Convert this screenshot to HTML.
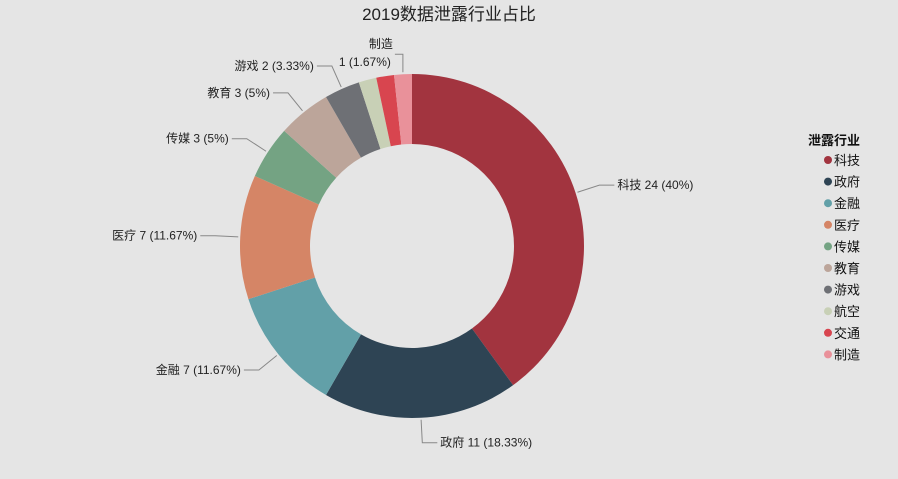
<!DOCTYPE html>
<html><head><meta charset="utf-8"><style>
body{margin:0;background:#e5e5e5;}
svg{display:block;font-family:"Liberation Sans","Noto Sans CJK SC",sans-serif;}
</style></head><body>
<svg id="c" width="898" height="479">
<rect width="898" height="479" fill="#e5e5e5"/>
<text x="449" y="20" text-anchor="middle" font-size="17" fill="#222">2019数据泄露行业占比</text>
<g id="slices"></g><g id="labels"></g><g id="legend"></g>
</svg>
<script>
const categories=["科技","政府","金融","医疗","传媒","教育","游戏","航空","交通","制造"];
const values=[24,11,7,7,3,3,2,1,1,1];
const percents=["40%","18.33%","11.67%","11.67%","5%","5%","3.33%","1.67%","1.67%","1.67%"];
const colors=["#a2343f","#2e4454","#62a0a8","#d58566","#74a383","#bca59a","#6e7075","#c8d0b6","#d8454f","#e9919a"];
const showLabel=[true,true,true,true,true,true,true,false,false,true];
const NS="http://www.w3.org/2000/svg";
const cx=412,cy=246,R=172,r0=102;
const total=values.reduce((a,b)=>a+b,0);
function pt(a,rad){return [cx+rad*Math.sin(a),cy-rad*Math.cos(a)];}
function mk(t,attrs,parent){const e=document.createElementNS(NS,t);for(const k in attrs)e.setAttribute(k,attrs[k]);parent.appendChild(e);return e;}
const gs=document.getElementById('slices'),gl=document.getElementById('labels'),gg=document.getElementById('legend');
let acc=0;
values.forEach((v,i)=>{
  const a0=acc/total*2*Math.PI,a1=(acc+v)/total*2*Math.PI;acc+=v;
  const [x0,y0]=pt(a0,R),[x1,y1]=pt(a1,R),[x2,y2]=pt(a1,r0),[x3,y3]=pt(a0,r0);
  const lg=(a1-a0)>Math.PI?1:0;
  const p=mk('path',{d:`M${x0},${y0}A${R},${R} 0 ${lg} 1 ${x1},${y1}L${x2},${y2}A${r0},${r0} 0 ${lg} 0 ${x3},${y3}Z`,fill:colors[i]},gs);
  
  
  if(showLabel[i]){
    const am=(a0+a1)/2;const [lx0,ly0]=pt(am,R+2);let [lx1,ly1]=pt(am,R+25);
    const right=Math.sin(am)>=0;
    const txt=categories[i]+' '+v+' ('+percents[i]+')';
    if(i===9){
      const pl=mk('polyline',{points:`${lx0},${ly0} ${lx0},${ly0-18} ${lx0-8},${ly0-18}`,fill:'none',stroke:'#888'},gl);
      
      
      const t=mk('text',{x:lx0-10,y:ly0-24,'text-anchor':'end','font-size':12,fill:'#222'},gl);
      t.textContent=categories[i];
      
      
      const t2=mk('text',{x:lx0-12,y:ly0-6,'text-anchor':'end','font-size':12,fill:'#222'},gl);
      t2.textContent=v+' ('+percents[i]+')';
      
      
      return;
    }
    const lx2=lx1+(right?15:-15);
    const pl=mk('polyline',{points:`${lx0},${ly0} ${lx1},${ly1} ${lx2},${ly1}`,fill:'none',stroke:'#888'},gl);
    
    
    const t=mk('text',{x:lx2+(right?3:-3),y:ly1+4,'text-anchor':right?'start':'end','font-size':12,fill:'#222'},gl);
    t.textContent=txt;
    
    
  }
});
const lt=mk('text',{x:808,y:145,'font-size':13,'font-weight':'bold',fill:'#111'},gg);
lt.textContent='泄露行业';


categories.forEach((c,i)=>{
  const y=160+i*21.6;
  const ci=mk('circle',{cx:828,cy:y,r:4,fill:colors[i]},gg);
  
  
  const t=mk('text',{x:834,y:y+5,'font-size':13,fill:'#111'},gg);
  t.textContent=c;
  
  
});
</script>
</body></html>
